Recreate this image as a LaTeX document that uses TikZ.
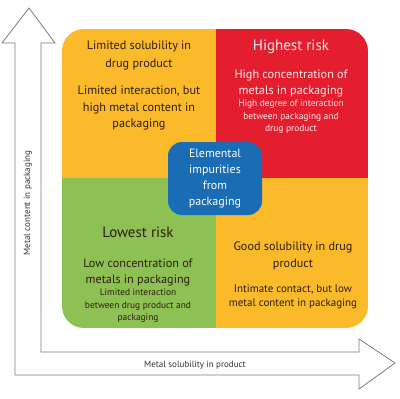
\documentclass[tikz,border=0pt]{standalone}
\usepackage{fontspec}
\setmainfont{PT Sans}
\usetikzlibrary{positioning}
\definecolor{riskyellow}{RGB}{250,186,42}
\definecolor{riskred}{RGB}{228,30,46}
\definecolor{riskgreen}{RGB}{141,193,84}
\definecolor{riskblue}{RGB}{26,108,180}
\definecolor{darktext}{RGB}{45,30,12}
\definecolor{lighttext}{RGB}{255,236,236}
\definecolor{axisgray}{RGB}{125,125,125}

\begin{document}
\begin{tikzpicture}[
    x=1pt, y=-1pt,
    heading/.style={font=\fontsize{15}{17}\selectfont, text=darktext, align=center},
    maintext/.style={font=\fontsize{12.2}{17}\selectfont, text=darktext, align=center},
    bodytext/.style={font=\fontsize{11}{14}\selectfont, text=darktext, align=center},
    smalltext/.style={font=\fontsize{9.4}{12.5}\selectfont, text=darktext, align=center},
    axislabel/.style={font=\fontsize{9}{10}\selectfont, text=black!80},
    centerbox/.style={rounded corners=14pt, fill=riskblue, text=white, minimum width=94pt, minimum height=73pt, align=center, font=\fontsize{12}{16}\selectfont}
]

\useasboundingbox (0,0) rectangle (400,399);

% Axes (one hollow L-shaped arrow)
\draw[axisgray, fill=white, line width=0.8pt, line join=miter]
    (29,8) -- (55,43) -- (41,43) -- (41,352) -- (359,352) -- (359,339) -- (395,363)
    -- (359,389) -- (359,375) -- (15,375) -- (15,43) -- (2,43) -- cycle;

\node[axislabel, rotate=90] (ylabel) at (28,203) {Metal content in packaging};
\node[axislabel] (xlabel) at (195,365) {Metal solubility in product};

% Quadrants
\begin{scope}
    \clip[rounded corners=22pt] (62,29) rectangle (368,328);
    \fill[riskyellow] (62,29) rectangle (216,178);
    \fill[riskred] (216,29) rectangle (368,178);
    \fill[riskgreen] (62,178) rectangle (216,328);
    \fill[riskyellow] (216,178) rectangle (368,328);
\end{scope}

% Top left
\node[maintext, font=\fontsize{12.2}{18}\selectfont] (tlhead) at (139,55) {Limited solubility in\\drug product};
\node[maintext, font=\fontsize{12.2}{16.5}\selectfont] (tlbody) at (139,108) {Limited interaction, but\\high metal content in\\packaging};

% Top right
\node[heading, text=lighttext] (trhead) at (291,47) {Highest risk};
\node[maintext, text=lighttext, font=\fontsize{12.2}{16}\selectfont] (trmain) at (291,83) {High concentration of\\metals in packaging};
\node[smalltext, text=lighttext] (trsmall) at (291,117) {High degree of interaction\\between packaging and\\drug product};

% Bottom left
\node[heading] (blhead) at (138,232) {Lowest risk};
\node[maintext, font=\fontsize{12.2}{16}\selectfont] (blmain) at (138,272.5) {Low concentration of\\metals in packaging};
\node[smalltext] (blsmall) at (138,306) {Limited interaction\\between drug product and\\packaging};

% Bottom right
\node[maintext] (brhead) at (293,255.5) {Good solubility in drug\\product};
\node[bodytext] (brbody) at (293,297) {Intimate contact, but low\\metal content in packaging};

% Centre
\node[centerbox] (impurities) at (215,178.5) {Elemental\\impurities\\from\\packaging};

\end{tikzpicture}
\end{document}
